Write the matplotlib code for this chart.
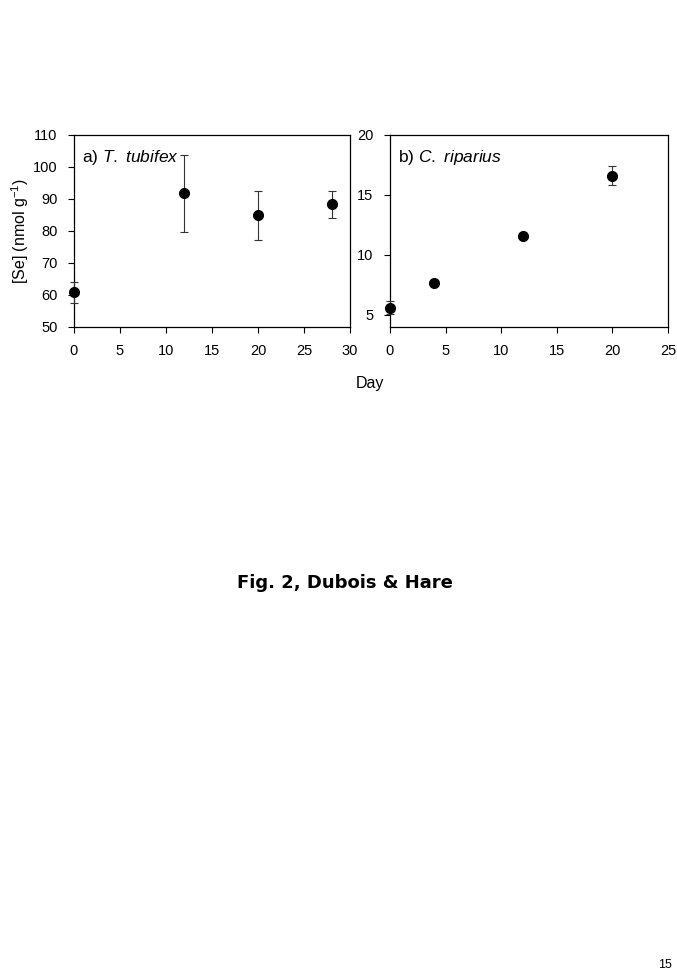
import matplotlib
matplotlib.use('Agg')
import matplotlib.pyplot as plt

plt.rcParams['font.family'] = ['Liberation Sans', 'DejaVu Sans']
plt.rcParams['mathtext.fontset'] = 'custom'
plt.rcParams['mathtext.rm'] = 'Liberation Sans'
plt.rcParams['mathtext.it'] = 'Liberation Sans:italic'

# panel a) T. tubifex
day_a = [0, 12, 20, 28]
se_a = [60.9, 91.8, 85.0, 88.3]
lo_a = [57.6, 79.6, 77.3, 84.0]
hi_a = [64.2, 103.9, 92.6, 92.6]

# panel b) C. riparius
day_b = [0, 4, 12, 20]
se_b = [5.6, 7.7, 11.6, 16.6]
lo_b = [5.1, 7.5, 11.35, 15.8]
hi_b = [6.15, 7.9, 11.85, 17.45]

fig = plt.figure(figsize=(6.77, 9.75), dpi=100)
ax1 = fig.add_axes([74/677, 1-327/975, 276/677, 192/975])
ax2 = fig.add_axes([390/677, 1-327/975, 278/677, 192/975])


def panel(ax, x, y, lo, hi, label, sp, xlim, ylim, yt):
    yerr = [[v - l for v, l in zip(y, lo)], [h - v for v, h in zip(y, hi)]]
    ax.errorbar(x, y, yerr=yerr, fmt='o', color='black', ecolor='#333333',
                elinewidth=0.8, capsize=3, capthick=0.8, markersize=7,
                clip_on=False, zorder=3)
    ax.set_xlim(*xlim)
    ax.set_ylim(*ylim)
    ax.set_xticks(range(xlim[0], xlim[1] + 1, 5))
    ax.set_yticks(yt)
    ax.tick_params(direction='out', length=4, width=0.8, labelsize=10.5, pad=8)
    for s in ax.spines.values():
        s.set_linewidth(0.9)
    words = sp.split(' ')
    txt = label + ' ' + ' '.join(r'$\it{' + w + '}$' for w in words)
    ax.text(0.03, 0.93, txt, transform=ax.transAxes,
            fontsize=12.5, va='top', ha='left')


panel(ax1, day_a, se_a, lo_a, hi_a, 'a)', 'T. tubifex', (0, 30), (50, 110),
      range(50, 111, 10))
panel(ax2, day_b, se_b, lo_b, hi_b, 'b)', 'C. riparius', (0, 25), (4, 20),
      [5, 10, 15, 20])

ax1.set_ylabel(r'[Se] (nmol g$^{-1}$)', fontsize=11.5, labelpad=1)
fig.text(370/677, 1-383/975, 'Day', ha='center', va='center', fontsize=11.5)

fig.text(345/677, 1-583/975, 'Fig. 2, Dubois & Hare', ha='center', va='center',
         fontsize=13, fontweight='bold', family='DejaVu Sans')
fig.text(665/677, 1-965/975, '15', ha='center', va='center', fontsize=9)

fig.savefig('out.png', dpi=100, facecolor='white')
